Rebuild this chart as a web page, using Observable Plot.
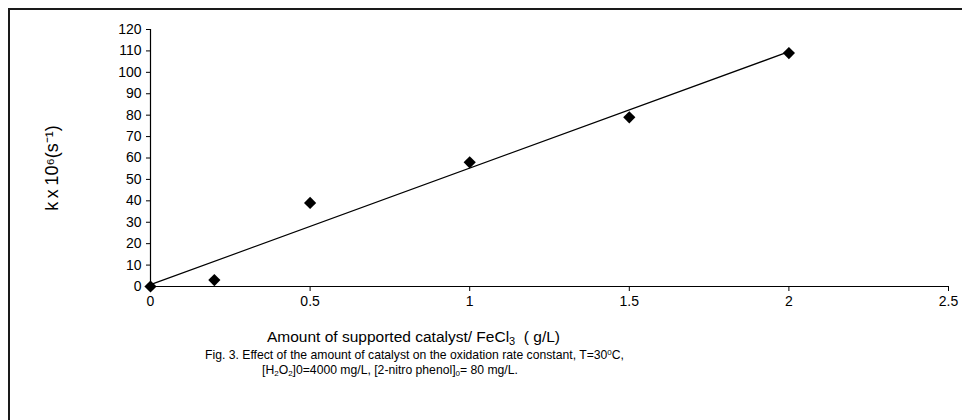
<!DOCTYPE html>
<html>
<head>
<meta charset="utf-8">
<script src="https://cdn.jsdelivr.net/npm/d3@7"></script>
<script src="https://cdn.jsdelivr.net/npm/@observablehq/plot@0.6"></script>
<style>
  html, body { margin: 0; padding: 0; background: #fff; }
  body { width: 962px; height: 420px; position: relative; overflow: hidden; font-family: "Liberation Sans", Arial, sans-serif; }
  #frame { position: absolute; left: 8px; top: 8px; width: 960px; height: 420px; border-left: 2px solid #1a1a1a; border-top: 2px solid #1a1a1a; }
  #chart { position: absolute; left: 0; top: 0; }
  #xtitle { position: absolute; left: 267px; top: 328px; font-size: 15.5px; color: #000; white-space: nowrap; }
  #xtitle sub { font-size: 11px; vertical-align: -3px; }
  .cap { position: absolute; font-size: 12.2px; color: #000; white-space: nowrap; }
  .cap sup, .cap sub { font-size: 8px; }
  .cap sup { vertical-align: 4px; }
  .cap sub { vertical-align: -2px; }
</style>
</head>
<body>
<div id="frame"></div>
<div id="chart"></div>
<div id="xtitle">Amount of supported catalyst/ FeCl<sub>3</sub>&nbsp; ( g/L)</div>
<div class="cap" style="left:205px; top:348px;">Fig. 3. Effect of the amount of catalyst on the oxidation rate constant, T=30<sup>0</sup>C,</div>
<div class="cap" style="left:262px; top:363px;">[H<sub>2</sub>O<sub>2</sub>]0=4000 mg/L, [2-nitro phenol]<sub>0</sub>= 80 mg/L.</div>
<script>
const catalyst = [0, 0.2, 0.5, 1, 1.5, 2];
const rateK = [0, 3, 39, 58, 79, 109];
const xTicks = [0, 0.5, 1, 1.5, 2, 2.5];
const yTicks = [0, 10, 20, 30, 40, 50, 60, 70, 80, 90, 100, 110, 120];
const yLabel = "k\u2009x\u200910\u2076(s\u207B\u00B9)";

const data = catalyst.map((x, i) => ({x, y: rateK[i]}));

const chart = Plot.plot({
  width: 962,
  height: 320,
  marginLeft: 150,
  marginRight: 14,
  marginTop: 29,
  marginBottom: 34,
  style: {fontFamily: "'Liberation Sans', Arial, sans-serif", background: "transparent", color: "#000"},
  x: {domain: [0, 2.5]},
  y: {domain: [0, 120]},
  marks: [
    Plot.axisX({ticks: xTicks, tickFormat: d => String(d), tickSize: 5, tickPadding: 5, fontSize: 14, label: null}),
    Plot.axisY({ticks: yTicks, tickSize: 4, tickPadding: 5, fontSize: 14, label: null}),
    Plot.text([yLabel], {frameAnchor: "left", textAnchor: "middle", rotate: -90, dx: -98, dy: 10, fontSize: 18, fill: "#000"}),
    Plot.ruleY([0], {stroke: "#000", strokeWidth: 1.2}),
    Plot.ruleX([0], {stroke: "#000", strokeWidth: 1.2}),
    Plot.linearRegressionY(data, {x: "x", y: "y", ci: 0, stroke: "#000", strokeWidth: 1.2}),
    Plot.dot(data, {x: "x", y: "y", symbol: "diamond2", r: 5.5, fill: "#000", stroke: "none"})
  ]
});
document.getElementById("chart").appendChild(chart);
</script>
</body>
</html>
